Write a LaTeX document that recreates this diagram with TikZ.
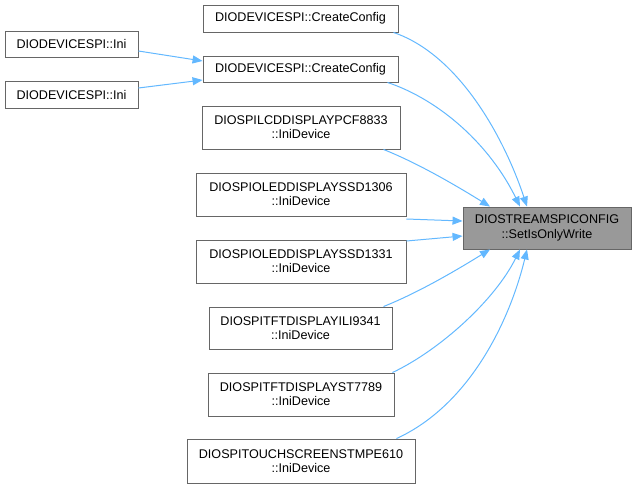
\documentclass[tikz,border=0pt]{standalone}
\usepackage{fontspec}
\setmainfont{Liberation Sans}
\usetikzlibrary{arrows.meta,calc}
\definecolor{edgeblue}{HTML}{63B8FF}
\definecolor{boxline}{HTML}{666666}
\definecolor{tgtfill}{HTML}{999999}
\tikzset{
  fn/.style={draw=boxline, line width=0.9pt, fill=white, inner sep=0pt, align=center,
    font=\fontsize{12.6pt}{14.2pt}\selectfont, text=black},
  tgtbox/.style={fn, fill=tgtfill},
  call/.style={draw=edgeblue, line width=1pt, -{Triangle[length=10pt,width=8pt]}}
}
\begin{document}
\begin{tikzpicture}[x=1pt,y=-1pt]
\useasboundingbox (0,0) rectangle (636,488);
\node[fn, minimum width=195pt, minimum height=27pt] (cc1) at (300.5,18.5) {DIODEVICESPI::CreateConfig};
\node[fn, minimum width=195pt, minimum height=26pt] (cc2) at (300.5,69) {DIODEVICESPI::CreateConfig};
\node[fn, minimum width=133pt, minimum height=26pt] (ini1) at (71.5,44) {DIODEVICESPI::Ini};
\node[fn, minimum width=133pt, minimum height=27pt] (ini2) at (71.5,94.5) {DIODEVICESPI::Ini};
\node[fn, minimum width=198pt, minimum height=43pt] (pcf) at (301,127.5) {DIOSPILCDDISPLAYPCF8833\\::IniDevice};
\node[fn, minimum width=210pt, minimum height=43pt] (s1306) at (301,194.5) {DIOSPIOLEDDISPLAYSSD1306\\::IniDevice};
\node[fn, minimum width=210pt, minimum height=43pt] (s1331) at (301,261.5) {DIOSPIOLEDDISPLAYSSD1331\\::IniDevice};
\node[fn, minimum width=183pt, minimum height=42pt] (ili) at (300.5,328) {DIOSPITFTDISPLAYILI9341\\::IniDevice};
\node[fn, minimum width=186pt, minimum height=43pt] (st) at (301,394.5) {DIOSPITFTDISPLAYST7789\\::IniDevice};
\node[fn, minimum width=228pt, minimum height=44pt] (tp) at (301,461) {DIOSPITOUCHSCREENSTMPE610\\::IniDevice};
\node[tgtbox, minimum width=168pt, minimum height=42pt] (tgt) at (547,228) {DIOSTREAMSPICONFIG\\::SetIsOnlyWrite};

\draw[call] ($(ini1.east)+(0,7)$) -- ($(cc2.west)+(0,-8)$);
\draw[call] ($(ini2.east)+(0,-6.5)$) -- ($(cc2.west)+(0,11)$);

\draw[call] ($(cc1.south east)+(-5,0)$) .. controls (460,55) and (505,140) .. ($(tgt.north)+(-20,0)$);
\draw[call] ($(cc2.south east)+(-11,0)$) .. controls (440,100) and (490,145) .. ($(tgt.north)+(-27,0)$);
\draw[call] ($(pcf.south east)+(-17,0)$) .. controls (420,164) and (460,188) .. ($(tgt.north)+(-57,0)$);
\draw[call] ($(s1306.east)+(0,24.5)$) -- ($(tgt.west)+(0,-7)$);
\draw[call] ($(s1331.east)+(0,-20.5)$) -- ($(tgt.west)+(0,8)$);
\draw[call] ($(ili.north east)+(-9,0)$) .. controls (420,292) and (460,268) .. ($(tgt.south)+(-57,0)$);
\draw[call] ($(st.north east)+(-2,0)$) .. controls (440,350) and (495,300) .. ($(tgt.south)+(-27,0)$);
\draw[call] ($(tp.north east)+(-19,0)$) .. controls (470,405) and (510,320) .. ($(tgt.south)+(-20,0)$);
\end{tikzpicture}
\end{document}
